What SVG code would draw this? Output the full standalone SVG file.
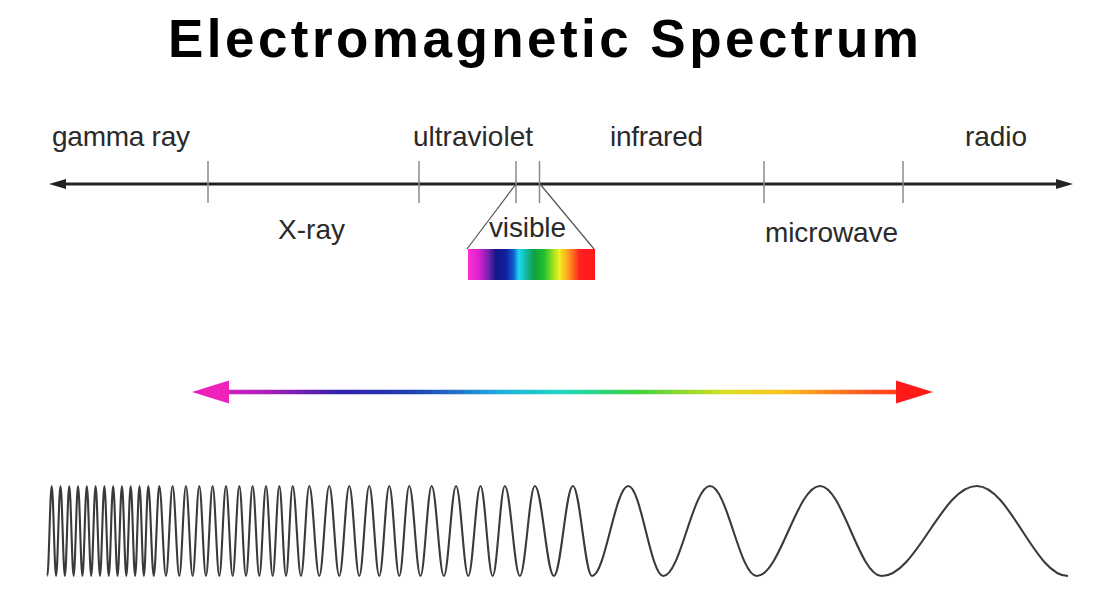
<svg xmlns="http://www.w3.org/2000/svg" width="1118" height="596" viewBox="0 0 1118 596">
<style>
.title{font-family:"Liberation Sans",Arial,sans-serif;font-weight:bold;font-size:53px;fill:#000}
.lbl{font-family:"Liberation Sans",Arial,sans-serif;font-size:28px;fill:#2a2a2a}
.tick{stroke:#8a8a8a;stroke-width:1.5}
.axis{stroke:#222;stroke-width:3;fill:none}
.fan{stroke:#555;stroke-width:1.2;fill:none}
.wave{stroke:#3a3a3a;stroke-width:2.1;fill:none;stroke-linejoin:round}
</style>
<defs>
<marker id="ah" viewBox="0 0 17 10" refX="1" refY="5" markerWidth="17" markerHeight="10" markerUnits="userSpaceOnUse" orient="auto-start-reverse">
<path d="M0,0 L17,5 L0,10 z" fill="#222"/>
</marker>
<linearGradient id="spec" x1="0" y1="0" x2="1" y2="0">
<stop offset="0" stop-color="#ff30d0"/>
<stop offset="0.08" stop-color="#e020d0"/>
<stop offset="0.16" stop-color="#7a20b0"/>
<stop offset="0.22" stop-color="#101888"/>
<stop offset="0.30" stop-color="#1020a0"/>
<stop offset="0.36" stop-color="#1060d0"/>
<stop offset="0.40" stop-color="#20d8f0"/>
<stop offset="0.46" stop-color="#10b8a0"/>
<stop offset="0.52" stop-color="#10a040"/>
<stop offset="0.60" stop-color="#20c030"/>
<stop offset="0.67" stop-color="#a0e020"/>
<stop offset="0.72" stop-color="#f0f020"/>
<stop offset="0.80" stop-color="#ff9020"/>
<stop offset="0.88" stop-color="#ff2020"/>
<stop offset="1" stop-color="#ff1a1a"/>
</linearGradient>
<linearGradient id="rainbow" gradientUnits="userSpaceOnUse" x1="192" y1="0" x2="933" y2="0">
<stop offset="0" stop-color="#f020c0"/>
<stop offset="0.1" stop-color="#b020b8"/>
<stop offset="0.2" stop-color="#3020a8"/>
<stop offset="0.3" stop-color="#2040b0"/>
<stop offset="0.42" stop-color="#20b0e0"/>
<stop offset="0.5" stop-color="#20d8c0"/>
<stop offset="0.6" stop-color="#40d040"/>
<stop offset="0.72" stop-color="#d8e020"/>
<stop offset="0.8" stop-color="#ffc020"/>
<stop offset="0.9" stop-color="#ff6020"/>
<stop offset="1" stop-color="#ff1a1a"/>
</linearGradient>
</defs>

<text class="title" x="168" y="57" textLength="751" lengthAdjust="spacing">Electromagnetic Spectrum</text>

<g id="connectors">
<line class="axis" x1="65" y1="184" x2="1057" y2="184" marker-start="url(#ah)" marker-end="url(#ah)"/>
<line class="tick" x1="208" y1="161" x2="208" y2="203"/>
<line class="tick" x1="419" y1="161" x2="419" y2="203"/>
<line class="tick" x1="516" y1="161" x2="516" y2="203"/>
<line class="tick" x1="539.5" y1="161" x2="539.5" y2="203"/>
<line class="tick" x1="764" y1="161" x2="764" y2="203"/>
<line class="tick" x1="903" y1="161" x2="903" y2="203"/>
<line class="fan" x1="516" y1="184" x2="467" y2="249"/>
<line class="fan" x1="540" y1="184" x2="594" y2="249"/>
</g>

<g id="gamma-ray"><text class="lbl" x="52" y="146" textLength="138" lengthAdjust="spacing">gamma ray</text></g>
<g id="ultraviolet"><text class="lbl" x="413" y="146" textLength="120" lengthAdjust="spacing">ultraviolet</text></g>
<g id="infrared"><text class="lbl" x="610" y="146" textLength="93" lengthAdjust="spacing">infrared</text></g>
<g id="radio"><text class="lbl" x="965" y="146" textLength="62" lengthAdjust="spacing">radio</text></g>
<g id="x-ray"><text class="lbl" x="278" y="239" textLength="67" lengthAdjust="spacing">X-ray</text></g>
<g id="microwave"><text class="lbl" x="765" y="242" textLength="133" lengthAdjust="spacing">microwave</text></g>
<g id="visible">
<text class="lbl" x="489" y="237" textLength="77" lengthAdjust="spacing">visible</text>
<rect x="468" y="249" width="127" height="31" fill="url(#spec)"/>
</g>

<g id="spectrum-arrow">
<line x1="224" y1="392" x2="901" y2="392" stroke="url(#rainbow)" stroke-width="4.5"/>
<polygon points="192,392 229,380.5 229,403.5" fill="#ee22bb"/>
<polygon points="933,392 896,380.5 896,403.5" fill="#ff1a1a"/>
</g>

<g id="wave">
<path class="wave" d="M47.3,576 c1.6,0 2.79,-90 4.39,-90 1.6,0 2.79,90 4.39,90 1.6,0 2.79,-90 4.39,-90 1.6,0 2.79,90 4.39,90 1.6,0 2.79,-90 4.39,-90 1.6,0 2.79,90 4.39,90 1.6,0 2.79,-90 4.39,-90 1.6,0 2.79,90 4.39,90 1.6,0 2.79,-90 4.39,-90 1.6,0 2.79,90 4.39,90 1.6,0 2.79,-90 4.39,-90 1.6,0 2.79,90 4.39,90 1.6,0 2.79,-90 4.39,-90 1.6,0 2.79,90 4.39,90 1.6,0 2.79,-90 4.39,-90 1.6,0 2.79,90 4.39,90 1.6,0 2.79,-90 4.39,-90 1.6,0 2.79,90 4.39,90 1.6,0 2.79,-90 4.39,-90 1.6,0 2.79,90 4.39,90 1.6,0 2.79,-90 4.39,-90 1.6,0 2.79,90 4.39,90 1.6,0 2.79,-90 4.39,-90
2,0 3.5,90 5.5,90 2,0 3.5,-90 5.5,-90
2.43,0 4.24,90 6.67,90 2.43,0 4.24,-90 6.67,-90 2.43,0 4.24,90 6.67,90 2.43,0 4.24,-90 6.67,-90 2.43,0 4.24,90 6.67,90 2.43,0 4.24,-90 6.67,-90 2.43,0 4.24,90 6.67,90 2.43,0 4.24,-90 6.67,-90 2.43,0 4.24,90 6.67,90 2.43,0 4.24,-90 6.67,-90 2.43,0 4.24,90 6.67,90 2.43,0 4.24,-90 6.67,-90 2.43,0 4.24,90 6.67,90 2.43,0 4.24,-90 6.67,-90 2.43,0 4.24,90 6.67,90 2.43,0 4.24,-90 6.67,-90 2.43,0 4.24,90 6.67,90 2.43,0 4.24,-90 6.67,-90 2.43,0 4.24,90 6.67,90 2.43,0 4.24,-90 6.67,-90
3.02,0 5.28,90 8.3,90 3.02,0 5.28,-90 8.3,-90
3.64,0 6.36,90 10,90 3.64,0 6.36,-90 10,-90 3.64,0 6.36,90 10,90 3.64,0 6.36,-90 10,-90 3.64,0 6.36,90 10,90 3.64,0 6.36,-90 10,-90 3.64,0 6.36,90 10,90 3.64,0 6.36,-90 10,-90 3.64,0 6.36,90 10,90 3.64,0 6.36,-90 10,-90
4.08,0 7.12,90 11.2,90 4.08,0 7.12,-90 11.2,-90
4.44,0 7.76,90 12.2,90 4.44,0 7.76,-90 12.2,-90 4.44,0 7.76,90 12.2,90 4.44,0 7.76,-90 12.2,-90 4.44,0 7.76,90 12.2,90 4.44,0 7.76,-90 12.2,-90
5.46,0 9.54,90 15,90 5.46,0 9.54,-90 15,-90
6.92,0 12.08,90 19,90 6.92,0 12.08,-90 19,-90
C579.83,486 585.04,576 592,576
C605.21,576 615.09,486 628.3,486
C641.04,486 650.56,576 663.3,576
C680.3,576 693,486 710,486
C727,486 739.7,576 756.7,576
C779.74,576 796.96,486 820,486
C842.46,486 859.24,576 881.7,576
C916.28,576 942.12,486 976.7,486
C1009.93,486 1034.77,576 1068,576"/>
</g>
</svg>
